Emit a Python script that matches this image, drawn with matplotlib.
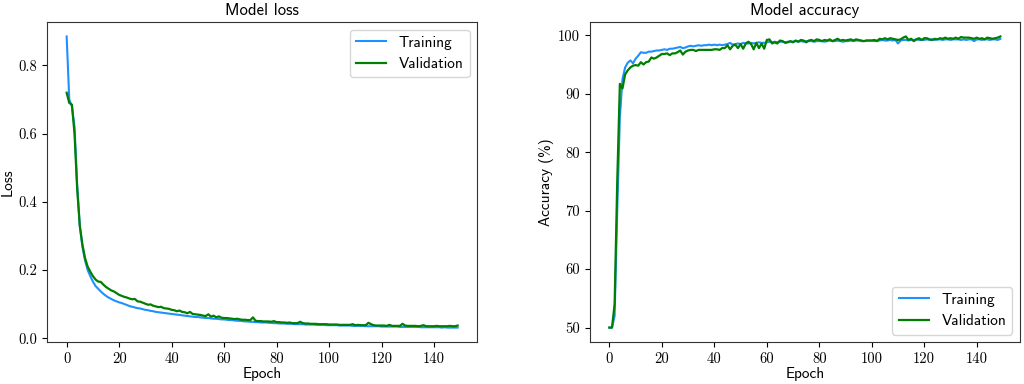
import numpy as np
import matplotlib
matplotlib.use("Agg")
import matplotlib.pyplot as plt

# values (one per epoch, 0..149)
train_loss = [
    0.885, 0.700, 0.680, 0.620, 0.450, 0.330, 0.268, 0.228, 0.200, 0.182,
    0.166, 0.153, 0.145, 0.137, 0.130, 0.124, 0.119, 0.115, 0.111, 0.108,
    0.105, 0.103, 0.100, 0.097, 0.094, 0.092, 0.090, 0.088, 0.087, 0.085,
    0.083, 0.082, 0.080, 0.079, 0.077, 0.076, 0.075, 0.074, 0.073, 0.072,
    0.071, 0.070, 0.069, 0.068, 0.067, 0.066, 0.065, 0.064, 0.063, 0.062,
    0.062, 0.061, 0.060, 0.059, 0.059, 0.058, 0.057, 0.057, 0.056, 0.055,
    0.055, 0.054, 0.053, 0.053, 0.052, 0.051, 0.051, 0.050, 0.049, 0.049,
    0.048, 0.048, 0.047, 0.047, 0.046, 0.046, 0.046, 0.045, 0.045, 0.044,
    0.044, 0.043, 0.043, 0.043, 0.042, 0.042, 0.042, 0.041, 0.041, 0.041,
    0.041, 0.040, 0.040, 0.040, 0.040, 0.039, 0.039, 0.039, 0.039, 0.038,
    0.038, 0.038, 0.038, 0.038, 0.037, 0.037, 0.037, 0.037, 0.037, 0.036,
    0.036, 0.036, 0.036, 0.036, 0.035, 0.035, 0.035, 0.035, 0.035, 0.035,
    0.034, 0.034, 0.034, 0.034, 0.034, 0.034, 0.034, 0.033, 0.033, 0.033,
    0.033, 0.033, 0.033, 0.033, 0.033, 0.032, 0.032, 0.032, 0.032, 0.032,
    0.032, 0.032, 0.032, 0.031, 0.032, 0.031, 0.031, 0.031, 0.031, 0.031,
]
val_loss = [
    0.720, 0.690, 0.685, 0.600, 0.440, 0.330, 0.275, 0.235, 0.210, 0.195,
    0.182, 0.172, 0.166, 0.165, 0.157, 0.150, 0.145, 0.140, 0.137, 0.132,
    0.127, 0.124, 0.121, 0.119, 0.116, 0.114, 0.115, 0.108, 0.107, 0.104,
    0.101, 0.098, 0.099, 0.095, 0.093, 0.091, 0.092, 0.088, 0.087, 0.086,
    0.083, 0.082, 0.079, 0.081, 0.077, 0.076, 0.073, 0.077, 0.071, 0.070,
    0.069, 0.068, 0.066, 0.065, 0.070, 0.063, 0.066, 0.061, 0.064, 0.060,
    0.059, 0.059, 0.058, 0.057, 0.056, 0.057, 0.055, 0.054, 0.054, 0.053,
    0.053, 0.061, 0.051, 0.050, 0.050, 0.049, 0.049, 0.049, 0.048, 0.050,
    0.047, 0.047, 0.046, 0.046, 0.045, 0.046, 0.044, 0.044, 0.044, 0.048,
    0.044, 0.043, 0.043, 0.042, 0.042, 0.042, 0.041, 0.041, 0.041, 0.041,
    0.040, 0.040, 0.040, 0.040, 0.039, 0.039, 0.039, 0.039, 0.039, 0.041,
    0.038, 0.039, 0.038, 0.038, 0.038, 0.045, 0.041, 0.038, 0.037, 0.037,
    0.037, 0.037, 0.036, 0.039, 0.036, 0.036, 0.036, 0.036, 0.042, 0.037,
    0.036, 0.036, 0.036, 0.036, 0.035, 0.036, 0.038, 0.035, 0.035, 0.035,
    0.035, 0.036, 0.035, 0.035, 0.035, 0.035, 0.036, 0.035, 0.035, 0.037,
]
train_acc = [
    50.0, 50.0, 52.0, 70.0, 86.0, 92.5, 94.5, 95.3, 95.7, 95.2,
    96.0, 96.5, 97.1, 97.0, 97.0, 97.2, 97.2, 97.3, 97.4, 97.4,
    97.5, 97.6, 97.5, 97.7, 97.7, 97.8, 97.9, 98.0, 97.8, 97.9,
    98.1, 98.2, 98.1, 98.2, 98.3, 98.2, 98.3, 98.3, 98.4, 98.3,
    98.4, 98.3, 98.4, 98.3, 98.4, 98.5, 98.7, 98.4, 98.5, 98.6,
    98.5, 98.7, 98.6, 98.6, 98.7, 98.6, 98.7, 98.8, 98.7, 98.7,
    98.8, 98.9, 98.8, 98.9, 98.8, 98.9, 98.9, 98.8, 98.9, 98.9,
    98.9, 99.0, 98.9, 99.0, 98.9, 99.0, 99.0, 99.0, 98.9, 99.0,
    99.0, 99.0, 98.9, 99.0, 99.1, 99.0, 99.0, 99.1, 99.0, 98.9,
    99.0, 99.0, 99.1, 99.0, 99.1, 99.1, 99.0, 99.0, 99.1, 99.1,
    99.1, 99.0, 99.1, 99.1, 99.2, 99.1, 99.1, 99.2, 99.1, 99.2,
    98.6, 99.1, 99.2, 99.2, 99.1, 99.2, 99.2, 99.3, 99.2, 99.2,
    99.2, 99.3, 99.2, 99.3, 99.2, 99.3, 99.3, 99.2, 99.3, 99.3,
    99.2, 99.3, 99.3, 99.3, 99.2, 99.3, 99.2, 99.3, 99.3, 99.0,
    99.3, 99.3, 99.2, 99.3, 99.3, 99.2, 99.3, 99.3, 99.2, 99.4,
]
val_acc = [
    50.0, 50.0, 54.0, 75.0, 91.7, 90.9, 93.3, 94.0, 94.5, 94.8,
    94.9, 94.8, 95.4, 95.0, 95.4, 95.5, 96.2, 96.0, 96.2, 96.5,
    96.8, 96.8, 96.9, 96.6, 96.9, 96.9, 97.1, 97.4, 96.7, 97.2,
    97.4, 97.5, 97.5, 97.3, 97.5, 97.5, 97.5, 97.5, 97.5, 97.5,
    97.6, 97.6, 97.5, 97.8, 97.8, 98.3, 97.6, 98.2, 98.4, 97.8,
    98.5, 97.7, 98.6, 98.9, 98.5, 97.6, 98.7, 97.8, 98.6, 97.7,
    99.2, 99.3, 98.6, 98.8, 98.6, 99.1, 99.0, 98.7, 98.8, 99.0,
    98.8, 99.1, 98.9, 99.2, 99.1, 98.8, 99.1, 99.2, 99.0, 99.3,
    99.2, 99.0, 99.2, 99.1, 99.3, 99.0, 99.2, 99.4, 99.1, 99.2,
    99.1, 99.2, 99.3, 99.1, 99.3, 99.2, 99.1, 99.0, 99.1, 99.1,
    99.1, 99.2, 99.0, 99.4, 99.3, 99.5, 99.3, 99.5, 99.4, 99.3,
    99.2, 99.3, 99.6, 99.8, 99.2, 99.4, 99.0, 99.3, 99.5, 99.2,
    99.5, 99.5, 99.3, 99.2, 99.4, 99.3, 99.5, 99.4, 99.6, 99.4,
    99.5, 99.4, 99.6, 99.4, 99.7, 99.6, 99.6, 99.6, 99.5, 99.4,
    99.6, 99.4, 99.5, 99.3, 99.6, 99.5, 99.4, 99.5, 99.6, 99.8,
]
epochs = np.arange(len(train_loss))

plt.rcParams['font.family'] = ['cmss10', 'DejaVu Sans']
plt.rcParams['axes.unicode_minus'] = False

fig = plt.figure(figsize=(10.24, 3.84), dpi=100)
ax1 = fig.add_axes([0.046, 0.109, 0.420, 0.834])
ax2 = fig.add_axes([0.576, 0.109, 0.420, 0.834])

blue = '#1e90ff'
green = '#007f00'

ax1.plot(epochs, train_loss, color=blue, lw=1.5, label='Training')
ax1.plot(epochs, val_loss, color=green, lw=1.6, label='Validation')
ax1.set_title('Model loss', fontsize=12, pad=5)
ax1.set_xlabel('Epoch', fontsize=11, labelpad=1)
ax1.set_ylabel('Loss', fontsize=11, labelpad=3)
ax1.legend(loc='upper right', fontsize=11)

ax2.plot(epochs, train_acc, color=blue, lw=1.5, label='Training')
ax2.plot(epochs, val_acc, color=green, lw=1.6, label='Validation')
ax2.set_title('Model accuracy', fontsize=12, pad=5)
ax2.set_xlabel('Epoch', fontsize=11, labelpad=1)
ax2.set_ylabel('Accuracy (%)', fontsize=11, labelpad=3)
ax2.legend(loc='lower right', fontsize=11)

for ax in (ax1, ax2):
    ax.set_xticks(np.arange(0, 141, 20))
    for lab in ax.get_xticklabels() + ax.get_yticklabels():
        lab.set_family('cmr10')
        lab.set_fontsize(10.5)
    for sp in ax.spines.values():
        sp.set_color('#333333')

fig.savefig('out.png', dpi=100)
